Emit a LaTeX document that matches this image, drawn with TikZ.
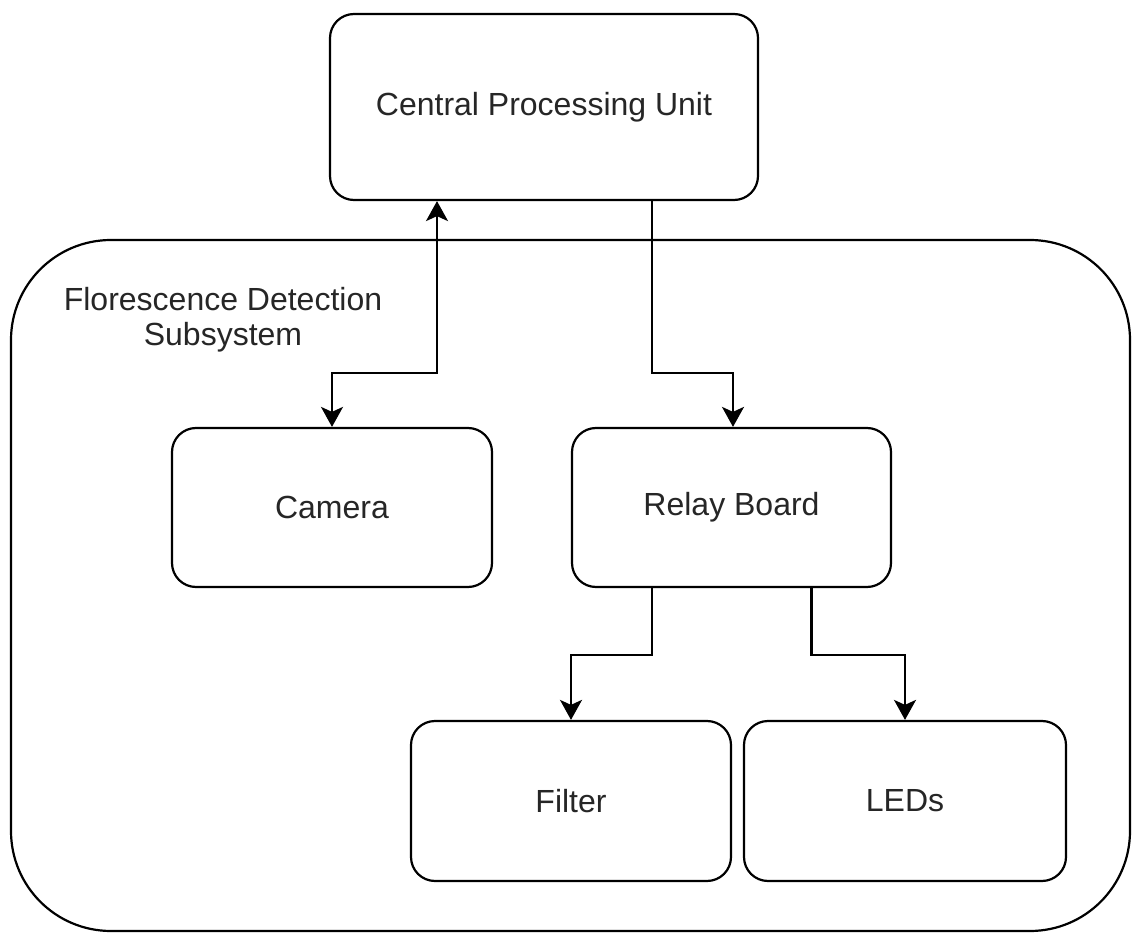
\documentclass[tikz,border=0pt]{standalone}
\usepackage{fontspec}
\setmainfont{Liberation Sans}
\usetikzlibrary{arrows.meta,calc}
\begin{document}
\begin{tikzpicture}[x=1pt,y=-1pt,
  line width=2.2pt,
  box/.style={draw=black,fill=white,rounded corners=24pt,rectangle,inner sep=0pt,
    font=\fontsize{32}{38}\selectfont,text=black!85},
  arr/.style={draw=black,line width=2.2pt,-{Stealth[length=20pt,width=22pt,inset=5pt]}},
  biarr/.style={draw=black,line width=2.2pt,{Stealth[length=20pt,width=22pt,inset=5pt]}-{Stealth[length=20pt,width=22pt,inset=5pt]}}
]
\useasboundingbox (0,0) rectangle (1133,933);
\node[box,rounded corners=100pt,minimum width=1119pt,minimum height=691pt] (sub) at (570.5,585.5) {};
\node[font=\fontsize{32}{35}\selectfont,align=center,text=black!85] (lbl) at (223,320) {Florescence Detection\\Subsystem};
\node[box,minimum width=428pt,minimum height=186pt] (cpu) at (544,107) {Central Processing Unit};
\node[box,minimum width=320pt,minimum height=159pt] (cam) at (332,507.5) {Camera};
\node[box,minimum width=319pt,minimum height=159pt] (relay) at (731.5,507.5) {Relay Board};
\node[box,minimum width=320pt,minimum height=160pt] (filter) at (571,801) {Filter};
\node[box,minimum width=322pt,minimum height=160pt] (leds) at (905,801) {LEDs};
\draw[biarr] ([xshift=-107pt]cpu.south) -- ++(0,172) -| (cam.north);
\draw[arr] ([xshift=108pt]cpu.south) -- ++(0,172) -| ([xshift=1.5pt]relay.north);
\draw[arr] ([xshift=-79.5pt]relay.south) -- ++(0,67) -| (filter.north);
\draw[arr] ([xshift=80pt]relay.south) -- ++(0,67) -| (leds.north);
\end{tikzpicture}
\end{document}
